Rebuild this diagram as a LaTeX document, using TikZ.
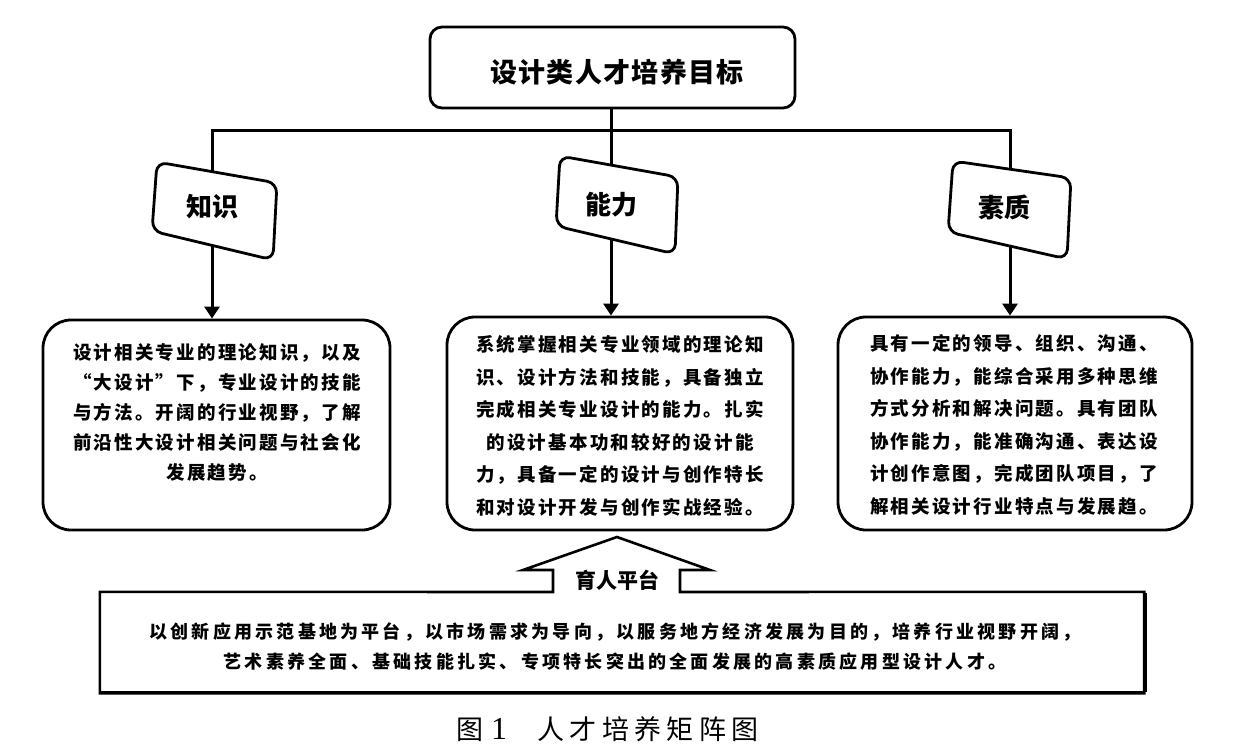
\documentclass[tikz,border=0pt]{standalone}
\usepackage{fontspec}
\newfontfamily\cjk{Noto Sans CJK SC}
\newfontfamily\cjktitle{Noto Sans CJK SC}[LetterSpace=5]
\newfontfamily\cjkbody{Noto Sans CJK SC}[LetterSpace=12]
\newfontfamily\cjkfoot{Noto Sans CJK SC}[LetterSpace=18]
\newfontfamily\cjkcap{Noto Sans CJK SC}[LetterSpace=20]
\newfontfamily\capnum{Liberation Serif}
\usetikzlibrary{arrows.meta}
\tikzset{
  goalbox/.style={draw, line width=2.8pt, rounded corners=12pt, fill=white, inner sep=0pt},
  tiltbox/.style={draw, line width=2.8pt, rounded corners=10pt, fill=white},
  contentbox/.style={draw, line width=2.8pt, rounded corners=28pt, fill=white, inner sep=0pt},
  conn/.style={line width=3pt},
  arr/.style={conn, -{Triangle[length=12pt,width=15pt]}},
  titletext/.style={font=\cjktitle\bfseries\fontsize{27}{27}\selectfont, inner sep=0pt},
  labeltext/.style={font=\cjk\bfseries\fontsize{26}{26}\selectfont, inner sep=0pt},
  bodytext/.style={font=\cjkbody\bfseries\fontsize{18.5}{30}\selectfont, align=center, inner sep=0pt},
  bodytextb/.style={font=\cjkbody\bfseries\fontsize{18.5}{32.5}\selectfont, align=center, inner sep=0pt},
  foottext/.style={font=\cjkfoot\bfseries\fontsize{18}{30}\selectfont, align=center, inner sep=0pt},
  frame/.style={line width=2.6pt, line join=miter},
}
\begin{document}
\begin{tikzpicture}[x=1pt,y=-1pt]
\useasboundingbox (0,0) rectangle (1234,749);

% top goal box
\node[goalbox, minimum width=365pt, minimum height=81pt] (goal) at (612.5,67.5) {};
\node[titletext] (goalt) at (617,72.5) {设计类人才培养目标};

% hub line
\coordinate (hk) at (212,131);
\coordinate (hn) at (611,131);
\coordinate (hs) at (1010,131);

% content boxes
\node[contentbox, minimum width=347pt, minimum height=210pt] (kbox) at (216.5,425) {};
\node[contentbox, minimum width=346pt, minimum height=213pt] (nbox) at (620,423.5) {};
\node[contentbox, minimum width=354pt, minimum height=213pt] (sbox) at (1015,423.5) {};

% connectors
\draw[conn] (goal.south -| hn) -- (hn);
\draw[conn, line cap=rect] (hk) -- (hs);
\draw[arr] (hk) -- (hk |- kbox.north);
\draw[arr] (hn) -- (hn |- nbox.north);
\draw[arr] (hs) -- (hs |- sbox.north);

% tilted label boxes
\draw[tiltbox] (157,162) -- (277,183) -- (273,260) -- (152,231) -- cycle;
\node[labeltext] (k) at (212.5,206.5) {知识};
\draw[tiltbox] (560,156) -- (678,177) -- (675,254) -- (556,226) -- cycle;
\node[labeltext] (n) at (611.5,205) {能力};
\draw[tiltbox] (953,161) -- (1071,178) -- (1067,259) -- (948,232) -- cycle;
\node[labeltext] (s) at (1004,207.5) {素质};

% content texts
\node[bodytext] (kt) at (217,412) {设计相关专业的理论知识，以及\\“大设计”下，专业设计的技能\\与方法。开阔的行业视野，了解\\前沿性大设计相关问题与社会化\\发展趋势。};
\node[bodytextb] (nt) at (620,426) {系统掌握相关专业领域的理论知\\识、设计方法和技能，具备独立\\完成相关专业设计的能力。扎实\\的设计基本功和较好的设计能\\力，具备一定的设计与创作特长\\和对设计开发与创作实战经验。};
\node[bodytextb] (st) at (1014,425) {具有一定的领导、组织、沟通、\\协作能力，能综合采用多种思维\\方式分析和解决问题。具有团队\\协作能力，能准确沟通、表达设\\计创作意图，完成团队项目，了\\解相关设计行业特点与发展趋。};

% bottom platform box with arrow
\node[minimum width=1044pt, minimum height=101pt, inner sep=0pt] (plat) at (622,642.5) {};
\coordinate (al) at (553,592);
\coordinate (ar) at (680,592);
\draw[frame] (plat.north west) -- (al) -- (553,570) -- (523,570) -- (617,537) -- (710,570) -- (680,570) -- (ar) -- (plat.north east) -- (plat.south east) -- (plat.south west) -- cycle;
\draw[line width=1.6pt] ([xshift=1.8pt,yshift=-1pt]plat.north east) -- ([xshift=1.8pt,yshift=1.8pt]plat.south east) -- ([xshift=1pt,yshift=1.8pt]plat.south west);
\node[font=\cjk\bfseries\fontsize{21}{21}\selectfont, inner sep=0pt] (yu) at (617,580) {育人平台};
\node[foottext] (pt) at (615,647) {以创新应用示范基地为平台，以市场需求为导向，以服务地方经济发展为目的，培养行业视野开阔，\\艺术素养全面、基础技能扎实、专项特长突出的全面发展的高素质应用型设计人才。};

% caption
\node[anchor=base west, inner sep=0pt] (cap) at (456,739) {{\cjkcap\fontsize{27}{27}\selectfont 图}\hspace{8pt}{\capnum\fontsize{32}{32}\selectfont 1}\hspace{30pt}{\cjkcap\fontsize{27}{27}\selectfont 人才培养矩阵图}};
\end{tikzpicture}
\end{document}
